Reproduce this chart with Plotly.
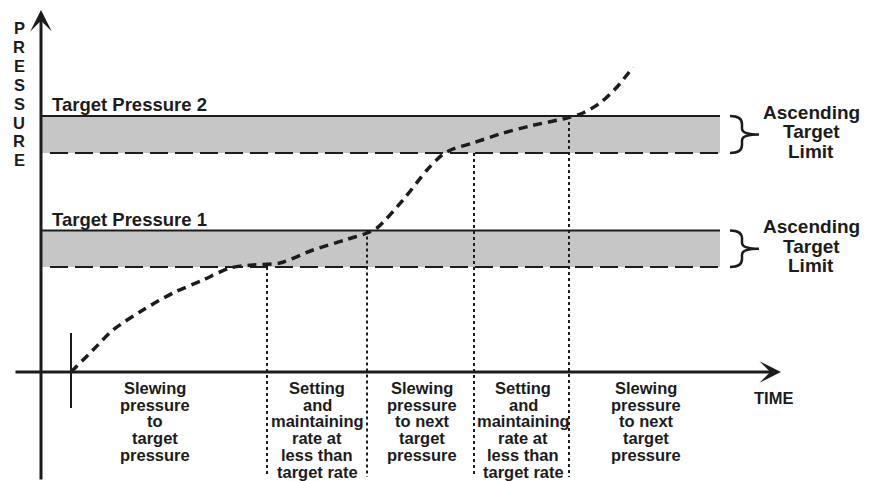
import plotly.graph_objects as go

# ---------------- data ----------------
# time / pressure curve (arbitrary units)
curve_time = [3.0, 5.2, 7.2, 10.2, 13.2, 16.2, 18.9, 21.2, 23.9, 27.2, 30.4, 32.6,
              33.6, 36.2, 38.6, 40.1, 41.2, 43.2, 45.9, 48.9, 52.6, 54.2, 55.9, 57.6, 59.2]
curve_pressure = [0.0, 2.2, 4.2, 6.2, 7.9, 9.2, 10.4, 10.7, 10.9, 12.2, 13.2, 13.9,
                  14.4, 17.2, 20.2, 21.7, 22.3, 22.9, 23.8, 24.6, 25.4, 25.9, 26.9, 28.5, 30.5]

band_names = ["Target Pressure 1", "Target Pressure 2"]
band_top = [14.15, 25.6]
band_bottom = [10.5, 21.9]
band_end = 67.9

start_time = 3.0
phase_bounds = [22.6, 32.6, 43.3, 52.8]
phase_bound_tops = [10.5, 14.15, 21.9, 25.6]
phase_bound_bottom = -10.5

phase_centers = [11.4, 27.6, 38.1, 48.2, 60.5]
phase_labels = [
    ["Slewing", "pressure", "to", "target", "pressure"],
    ["Setting", "and", "maintaining", "rate at", "less than", "target rate"],
    ["Slewing", "pressure", "to next", "target", "pressure"],
    ["Setting", "and", "maintaining", "rate at", "less than", "target rate"],
    ["Slewing", "pressure", "to next", "target", "pressure"],
]
limit_label = ["Ascending", "Target", "Limit"]
y_title = "PRESSURE"
x_title = "TIME"

# ---------------- layout constants ----------------
W, H = 871, 481
X_RANGE = [-4.1, 83.0]
Y_RANGE = [-10.9, 37.2]
INK = "#1c1c1c"
GRAY = "#c6c6c6"
FONT = "Liberation Sans, Arial, Helvetica, sans-serif"

fig = go.Figure()

# curve
fig.add_trace(go.Scatter(
    x=curve_time, y=curve_pressure, mode="lines",
    line=dict(color=INK, width=3.5, dash="9px,6px", shape="spline", smoothing=0.8),
    hoverinfo="skip", showlegend=False))

shapes = []
annotations = []

# bands
for name, top, bot in zip(band_names, band_top, band_bottom):
    shapes.append(dict(type="rect", xref="x", yref="y", x0=0, x1=band_end, y0=bot, y1=top,
                       fillcolor=GRAY, line=dict(width=0), layer="below"))
    shapes.append(dict(type="line", xref="x", yref="y", x0=0, x1=band_end, y0=top, y1=top,
                       line=dict(color=INK, width=2)))
    shapes.append(dict(type="line", xref="x", yref="y", x0=0.9, x1=band_end, y0=bot, y1=bot,
                       line=dict(color=INK, width=2, dash="18px,7px")))
    annotations.append(dict(x=0.9, y=top, xref="x", yref="y", text=name, showarrow=False,
                            xanchor="left", yanchor="bottom", yshift=-1,
                            font=dict(family=FONT, size=18.5, color=INK, weight="bold")))
    # brace
    x0 = band_end + 1.0
    xv = band_end + 2.2
    xt = band_end + 3.9
    mid = (top + bot) / 2
    path = (f"M{x0},{top} Q{xv},{top} {xv},{top-0.8} L{xv},{mid+0.6} "
            f"Q{xv},{mid} {xt},{mid} Q{xv},{mid} {xv},{mid-0.6} "
            f"L{xv},{bot+0.8} Q{xv},{bot} {x0},{bot}")
    shapes.append(dict(type="path", xref="x", yref="y", path=path,
                       line=dict(color=INK, width=2.5)))
    for i, word in enumerate(limit_label):
        annotations.append(dict(x=77.0, y=top, xref="x", yref="y", text=word, showarrow=False,
                                xanchor="center", yanchor="middle", yshift=4 - i * 19.7,
                                font=dict(family=FONT, size=19, color=INK, weight="bold")))

# phase boundaries (dotted)
for t, top in zip(phase_bounds, phase_bound_tops):
    shapes.append(dict(type="line", xref="x", yref="y", x0=t, x1=t, y0=top, y1=phase_bound_bottom,
                       line=dict(color=INK, width=2, dash="3px,3px")))

# start tick
shapes.append(dict(type="line", xref="x", yref="y", x0=start_time, x1=start_time, y0=3.9, y1=-3.6,
                   line=dict(color=INK, width=2)))

# axes with arrows
annotations.append(dict(x=0, y=36.2, ax=0, ay=Y_RANGE[0], xref="x", yref="y", axref="x", ayref="y",
                        text="", showarrow=True, arrowhead=3, arrowsize=1.2, arrowwidth=3,
                        arrowcolor=INK, standoff=0, startstandoff=0))
annotations.append(dict(x=74.0, y=0, ax=-2.7, ay=0, xref="x", yref="y", axref="x", ayref="y",
                        text="", showarrow=True, arrowhead=3, arrowsize=1.2, arrowwidth=3,
                        arrowcolor=INK, standoff=0, startstandoff=0))

# phase labels
for cx, lines in zip(phase_centers, phase_labels):
    for i, line in enumerate(lines):
        annotations.append(dict(x=cx, y=0, xref="x", yref="y", text=line, showarrow=False,
                                xanchor="center", yanchor="middle", yshift=-16 - i * 16.7,
                                font=dict(family=FONT, size=16.5, color=INK, weight="bold")))

# axis titles
for i, ch in enumerate(y_title):
    annotations.append(dict(x=-2.2, y=34.4, xref="x", yref="y", text=ch, showarrow=False,
                            xanchor="center", yanchor="middle", yshift=-i * 18.9,
                            font=dict(family=FONT, size=16.5, color=INK, weight="bold")))
annotations.append(dict(x=73.2, y=0, xref="x", yref="y", text=x_title, showarrow=False,
                        xanchor="center", yanchor="middle", yshift=-26,
                        font=dict(family=FONT, size=16.5, color=INK, weight="bold")))

fig.update_layout(
    width=W, height=H,
    margin=dict(l=0, r=0, t=0, b=0),
    paper_bgcolor="white", plot_bgcolor="white",
    xaxis=dict(range=X_RANGE, visible=False, fixedrange=True),
    yaxis=dict(range=Y_RANGE, visible=False, fixedrange=True),
    shapes=shapes, annotations=annotations,
    showlegend=False,
)

fig.write_html(
    "out.html",
    config={"displayModeBar": False},
    post_script="document.body.style.margin='0px';document.body.style.padding='0px';"
                "document.body.style.overflow='hidden';",
)
